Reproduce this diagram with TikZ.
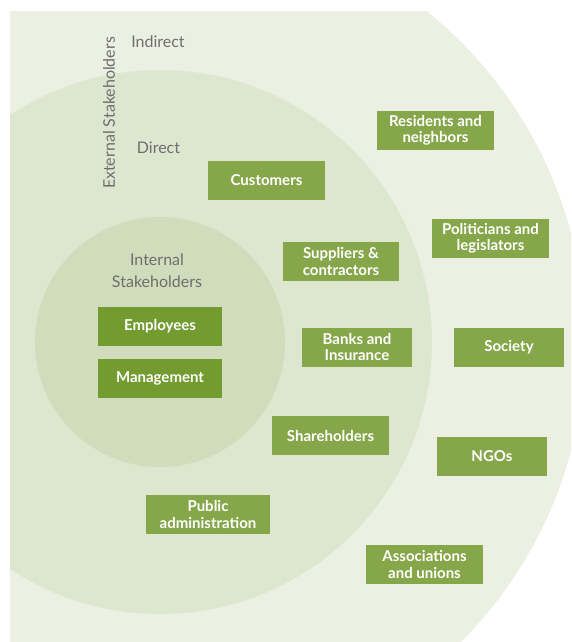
\documentclass[tikz,border=0pt]{standalone}
\usepackage{fontspec}
\setmainfont{Lato}
\usepackage{tikz}
\definecolor{ringout}{HTML}{EBF0E2}
\definecolor{ringmid}{HTML}{DDE7D0}
\definecolor{ringin}{HTML}{D0DCBB}
\definecolor{boxgreen}{HTML}{86A64A}
\definecolor{boxdark}{HTML}{739B2F}
\definecolor{labelgray}{HTML}{6E6E6E}
\tikzstyle{group}=[fill=boxgreen, text=white, font=\fontsize{15}{16.5}\selectfont\bfseries, align=center, inner sep=0pt, minimum height=39pt]
\tikzstyle{innergroup}=[group, fill=boxdark]
\tikzstyle{caption}=[text=labelgray, font=\fontsize{16}{22}\selectfont, align=center, inner sep=0pt]

\begin{document}
\begin{tikzpicture}[x=1pt,y=-1pt]
				\useasboundingbox (0,0) rectangle (571,642);
				
				% the three rings
				\begin{scope}
				\clip (10,12) rectangle (571,642);
				\fill[ringout] (160,342) circle (425pt);
				\fill[ringmid] (160,342) circle (272pt);
				\fill[ringin] (160,342) circle (125pt);
				\end{scope}
				
				\node[caption] (indirect) at (158,42) {Indirect};
				\node[caption] (direct) at (158.5,148) {Direct};
				\node[caption, rotate=90] (external) at (109,113) {External Stakeholders};
				\node[caption] (internal) at (157,271) {Internal\\Stakeholders};
				
				% internal
				\node[innergroup, minimum width=124pt] (employees) at (160,326.5) {Employees};
				\node[innergroup, minimum width=124pt] (management) at (160,378.5) {Management};
				
				% direct
				\node[group, minimum width=117pt] (customers) at (266.5,180) {Customers};
				\node[group, minimum width=116pt] (suppliers) at (341,261.5) {Suppliers \&\\contractors};
				\node[group, minimum width=110pt] (banks) at (357,347) {Banks and\\Insurance};
				\node[group, minimum width=117pt] (shareholders) at (330.5,435.5) {Shareholders};
				\node[group, minimum width=124pt] (public) at (208,514.5) {Public\\administration};
				
				% indirect
				\node[group, minimum width=117pt] (residents) at (435.5,130.5) {Residents and\\neighbors};
				\node[group, minimum width=117pt] (politicians) at (490.5,238.5) {Politicians and\\legislators};
				\node[group, minimum width=110pt] (society) at (509,347) {Society};
				\node[group, minimum width=110pt] (ngos) at (492,456.5) {NGOs};
				\node[group, minimum width=117pt] (associations) at (424.5,564.5) {Associations\\and unions};
			\end{tikzpicture}
\end{document}
